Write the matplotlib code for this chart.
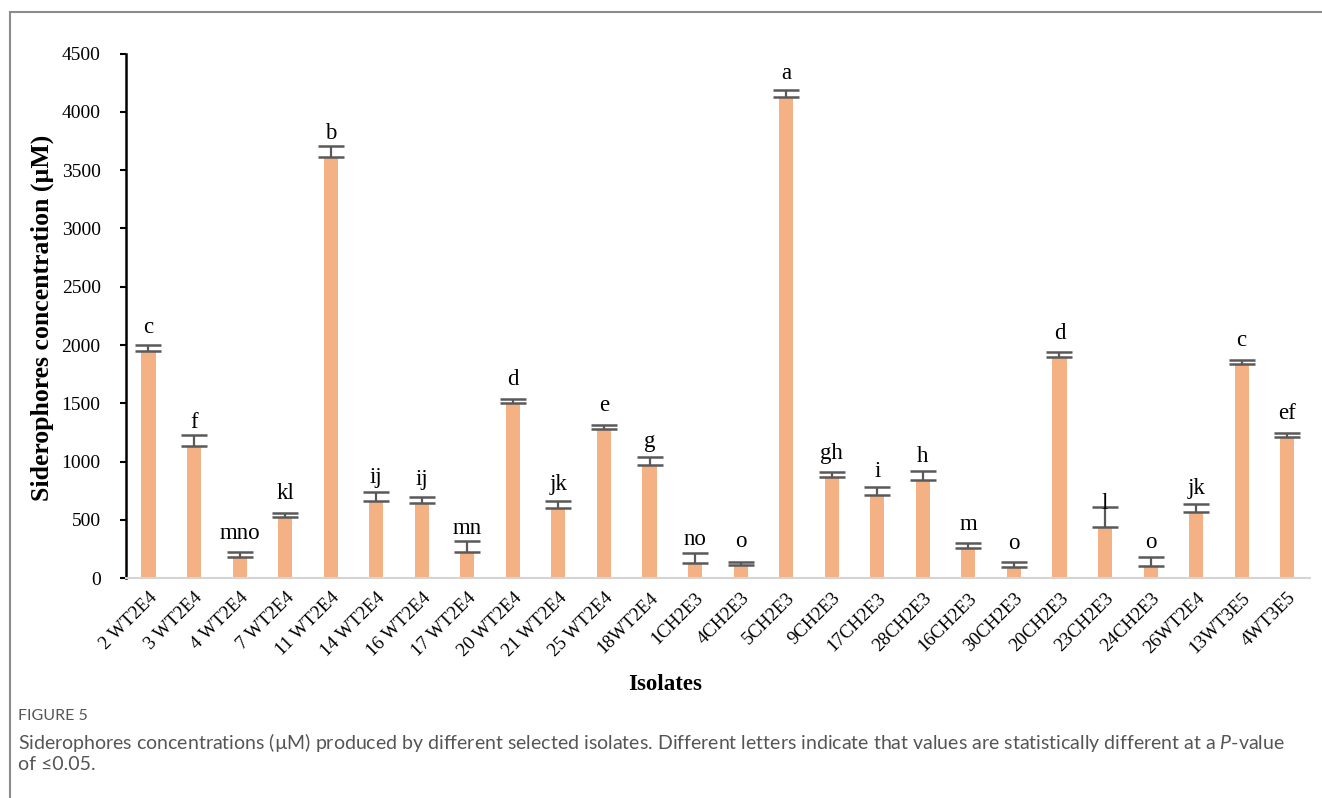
import matplotlib
matplotlib.use("Agg")
import matplotlib.pyplot as plt
from matplotlib.lines import Line2D
import numpy as np

# Siderophore production per isolate (µM), standard error, and significance groups
isolates = ['2 WT2E4', '3 WT2E4', '4 WT2E4', '7 WT2E4', '11 WT2E4', '14 WT2E4',
            '16 WT2E4', '17 WT2E4', '20 WT2E4', '21 WT2E4', '25 WT2E4', '18WT2E4',
            '1CH2E3', '4CH2E3', '5CH2E3', '9CH2E3', '17CH2E3', '28CH2E3',
            '16CH2E3', '30CH2E3', '20CH2E3', '23CH2E3', '24CH2E3', '26WT2E4',
            '13WT3E5', '4WT3E5']
values = [1950, 1137, 180, 528, 3616, 666, 648, 228, 1501, 600, 1278, 972,
          129, 114, 4125, 871, 714, 843, 257, 94, 1901, 443, 105, 566,
          1838, 1209]
errors = [52, 92, 48, 29, 94, 72, 52, 92, 34, 60, 39, 68,
          85, 29, 63, 43, 66, 75, 43, 48, 42, 166, 80, 71,
          34, 40]
letters = ['c', 'f', 'mno', 'kl', 'b', 'ij', 'ij', 'mn', 'd', 'jk', 'e', 'g',
           'no', 'o', 'a', 'gh', 'i', 'h', 'm', 'o', 'd', 'l', 'o', 'jk',
           'c', 'ef']
yticks = [0, 500, 1000, 1500, 2000, 2500, 3000, 3500, 4000, 4500]

serif = ['Liberation Serif', 'DejaVu Serif']
plt.rcParams['mathtext.fontset'] = 'custom'
plt.rcParams['mathtext.rm'] = 'Lato'
plt.rcParams['mathtext.it'] = 'Lato:italic'

W, H = 1322, 798
fig = plt.figure(figsize=(W / 100, H / 100), dpi=100)
fig.patch.set_facecolor('white')

ax = fig.add_axes([125.7 / W, 1 - 578.3 / H, (1310 - 125.7) / W, (578.3 - 53.6) / H])
x = np.arange(len(isolates))
ax.bar(x, values, width=0.31, color='#F4B183', zorder=2)
ax.errorbar(x, values, yerr=[np.zeros(len(errors)), errors], fmt='none',
            ecolor='#595959', elinewidth=1.6, capsize=9.5, capthick=1.8, zorder=3)

for xi, v, lab in zip(x, values, letters):
    ax.annotate(lab, xy=(xi, v), xytext=(0, 13), textcoords='offset points',
                ha='center', va='baseline', fontsize=16.5, family=serif, color='black')

ax.set_xlim(-0.5, len(isolates) - 0.5)
ax.set_ylim(0, 4500)
ax.set_yticks(yticks)
ax.set_yticklabels([str(t) for t in yticks], family=serif, fontsize=14)
ax.set_xticks(x)
ax.set_xticklabels(isolates, rotation=45, ha='right', va='top',
                   rotation_mode='anchor', family=serif, fontsize=13.5)
ax.tick_params(axis='x', length=0, pad=8)
ax.tick_params(axis='y', length=4, width=1.5, pad=14, direction='out', color='black')

for side in ('top', 'right'):
    ax.spines[side].set_visible(False)
ax.spines['left'].set_linewidth(1.8)
ax.spines['left'].set_color('black')
ax.spines['bottom'].set_linewidth(1.5)
ax.spines['bottom'].set_color('#D4D4D4')

fig.text(42 / W, 1 - 318 / H, 'Siderophores concentration (µM)', rotation=90,
         ha='center', va='center', family=serif, fontweight='bold', fontsize=18.5)
fig.text(665 / W, 1 - 684 / H, 'Isolates', ha='center', va='center',
         family=serif, fontweight='bold', fontsize=16.5)

# caption block
cap_font = ['Lato', 'DejaVu Sans']
fig.text(18 / W, 1 - 716 / H, 'FIGURE 5', ha='left', va='center',
         family=cap_font, fontsize=11.5, color='#555555')
fig.text(18 / W, 1 - 742 / H,
         'Siderophores concentrations (µM) produced by different selected isolates. '
         'Different letters indicate that values are statistically different at a '
         r'$\mathit{P}$-value',
         ha='left', va='center', family=cap_font, fontsize=14, color='#555555')
fig.text(18 / W, 1 - 764 / H, 'of ≤0.05.', ha='left', va='center',
         family=cap_font, fontsize=14, color='#555555')

# frame lines around the figure panel
fig.add_artist(Line2D([10 / W, 1], [1 - 12 / H, 1 - 12 / H], color='#8c8c8c', lw=1.5))
fig.add_artist(Line2D([10 / W, 10 / W], [0, 1 - 12 / H], color='#8c8c8c', lw=1.5))

fig.savefig('out.png', dpi=100, facecolor='white')
